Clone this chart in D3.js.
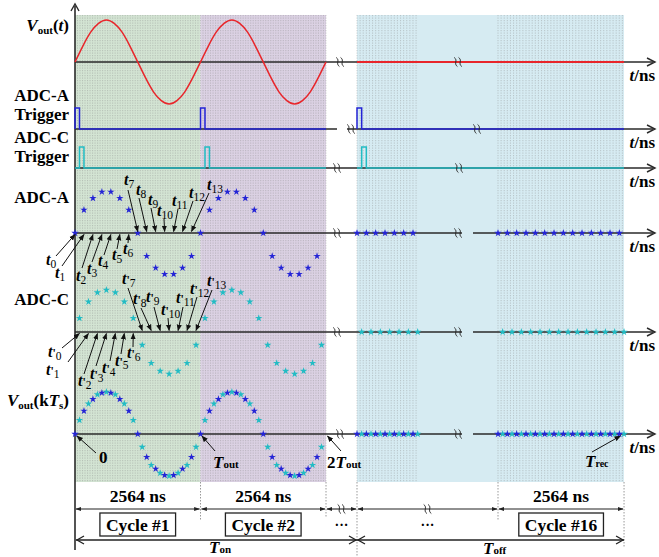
<!DOCTYPE html>
<html><head><meta charset="utf-8">
<script src="https://cdn.jsdelivr.net/npm/d3@7"></script>
<style>body{margin:0;background:#fff}svg{display:block}</style></head>
<body><svg id="c" width="659" height="557"></svg>
<script>
// ================= DATA =================
const cycleNs = 2564;
const samplesPerCycle = 14;
const onCycles = [0, 1];
// Vout(t) read every 1/16 of a cycle (normalised amplitude)
const voutCurve = [0, 0.38, 0.71, 0.92, 1, 0.92, 0.71, 0.38, 0, -0.38, -0.71, -0.92, -1, -0.92, -0.71, -0.38];
// ADC-A samples (k*Ts) and ADC-C samples ((k+1/2)*Ts), one cycle
const adcAValues = [0, 0.55, 0.83, 0.98, 0.98, 0.83, 0.55, 0, -0.55, -0.83, -0.98, -0.98, -0.83, -0.55];
const adcCValues = [0.33, 0.72, 0.94, 1, 0.94, 0.72, 0.33, -0.31, -0.74, -0.93, -1, -0.93, -0.74, -0.31];
// output-off period samples (flat)
const offGroup1A = [0, 0, 0, 0, 0, 0, 0];
const offGroup1C = [0, 0, 0, 0, 0, 0, 0];
const offGroup2A = [0, 0, 0, 0, 0, 0, 0, 0, 0, 0, 0, 0, 0, 0];
const offGroup2C = [0, 0, 0, 0, 0, 0, 0, 0, 0, 0, 0, 0, 0, 0];
const triggerLevel = 0.5;
const durationLabels = ["2564 ns", "2564 ns", "", "", "2564 ns"];
const cycleLabels = ["Cycle #1", "Cycle #2", "···", "···", "Cycle #16"];
const topIdxA = [7, 8, 9, 10, 11, 12, 13];
const botIdxA = [0, 1, 2, 3, 4, 5, 6];

// ================= LAYOUT =================
const svg = d3.select("#c");
const FONT = "'Liberation Serif','Times New Roman',serif";
const Ts = cycleNs / samplesPerCycle;
const xOn = d3.scaleLinear().domain([0, 2 * cycleNs]).range([75, 326]);
const xOff1 = d3.scaleLinear().domain([0, cycleNs]).range([357, 487.7]);
const xOff2 = d3.scaleLinear().domain([0, cycleNs]).range([498, 628.7]);
const AMP = 42;
const rows = {
  vout:  {y: 62,  squig: [340, 458], gap: null},
  trigA: {y: 129, squig: [351, 477], gap: [337, 347]},
  trigC: {y: 168, squig: [337, 459], gap: null},
  adcA:  {y: 233, squig: [337, 458], gap: [462, 473]},
  adcC:  {y: 332, squig: [337, 458], gap: [462, 473]},
  voutK: {y: 434, squig: [340, 458], gap: [462, 473]}
};
const yOf = r => d3.scaleLinear().domain([-1, 1]).range([rows[r].y + AMP, rows[r].y - AMP]);
const RED = "#e8262b", BLUE = "#2424d6", CYAN = "#22bcc4", AX = "#2a2a2a";
const offEnd = xOff2((samplesPerCycle - 0.5) * Ts);
const TOP = 15, BOT = 482;

const defs = svg.append("defs");
defs.append("marker").attr("id", "ah").attr("viewBox", "0 0 10 10").attr("refX", 9).attr("refY", 5)
  .attr("markerWidth", 6.5).attr("markerHeight", 6.5).attr("orient", "auto-start-reverse")
  .attr("markerUnits", "userSpaceOnUse")
  .append("path").attr("d", "M0,1 L10,5 L0,9 Z").attr("fill", "#111");
defs.append("marker").attr("id", "dh").attr("viewBox", "0 0 10 10").attr("refX", 9).attr("refY", 5)
  .attr("markerWidth", 6).attr("markerHeight", 6).attr("orient", "auto-start-reverse")
  .attr("markerUnits", "userSpaceOnUse")
  .append("path").attr("d", "M0,1.5 L10,5 L0,8.5 Z").attr("fill", "#222");

// backgrounds
const bg = svg.append("g");
bg.append("rect").attr("x", xOn(0)).attr("y", TOP).attr("width", xOn(cycleNs) - xOn(0)).attr("height", BOT - TOP).attr("fill", "#d3e4d3");
bg.append("rect").attr("x", xOn(cycleNs)).attr("y", TOP).attr("width", xOn(2 * cycleNs) - xOn(cycleNs)).attr("height", BOT - TOP).attr("fill", "#dbd1e3");
bg.append("rect").attr("x", xOff1(0)).attr("y", TOP).attr("width", offEnd - xOff1(0)).attr("height", BOT - TOP).attr("fill", "#d6ebf2");
// dotted texture
const tex = svg.append("g").attr("stroke", "#8c8c8c").attr("stroke-width", 0.8).attr("stroke-dasharray", "1.2,1.3").attr("opacity", 0.5);
const addTex = (a, b, step) => d3.range(a, b + 0.01, step).forEach(x =>
  tex.append("line").attr("x1", x).attr("x2", x).attr("y1", TOP).attr("y2", BOT));
addTex(xOn(0) + 2.5, xOn(2 * cycleNs), 2.51);
addTex(xOff1(0), xOff1(0) + 61, 3.11);
addTex(xOff2(0), offEnd, 3.11);

// ================= AXES =================
const ax = svg.append("g").attr("stroke", AX).attr("fill", "none");
ax.append("line").attr("x1", 75).attr("x2", 75).attr("y1", 6).attr("y2", 550).attr("stroke-width", 1.6);
ax.append("path").attr("d", "M71,11 L75,4 L79,11").attr("stroke-width", 1.4);
function squiggle(g, x, y) {
  [-2.2, 2.2].forEach(dx => g.append("path")
    .attr("d", `M${x + dx - 1.6},${y - 4.5} C${x + dx + 2.6},${y - 1.5} ${x + dx - 2.6},${y + 1.5} ${x + dx + 1.6},${y + 4.5}`)
    .attr("stroke", AX).attr("stroke-width", 1).attr("fill", "none"));
}
Object.values(rows).forEach(r => {
  const segs = r.gap ? [[75, r.gap[0]], [r.gap[1], 653]] : [[75, 653]];
  segs.forEach(s => ax.append("line").attr("x1", s[0]).attr("x2", s[1]).attr("y1", r.y).attr("y2", r.y).attr("stroke-width", 1.6));
  ax.append("path").attr("d", `M647,${r.y - 4} L655,${r.y} L647,${r.y + 4}`).attr("stroke-width", 1.4);
});

// ================= SIGNALS =================
const sig = svg.append("g").attr("fill", "none");
const yV = yOf("vout");
const voutPts = [];
onCycles.forEach(c => voutCurve.forEach((v, j) => voutPts.push([c * cycleNs + j * cycleNs / voutCurve.length, v])));
voutPts.push([onCycles.length * cycleNs, voutCurve[0]]);
sig.append("path").attr("d", d3.line().x(d => xOn(d[0])).y(d => yV(d[1])).curve(d3.curveNatural)(voutPts))
  .attr("stroke", RED).attr("stroke-width", 1.5);
sig.append("line").attr("x1", xOff1(0)).attr("x2", offEnd).attr("y1", yV(0)).attr("y2", yV(0)).attr("stroke", RED).attr("stroke-width", 1.8);

function trigger(row, color, start) {
  const y = yOf(row);
  const pts = [[0, 0]];
  onCycles.forEach(c => {
    const t0 = c * cycleNs + start;
    pts.push([t0, 0], [t0, triggerLevel], [t0 + Ts / 2, triggerLevel], [t0 + Ts / 2, 0]);
  });
  pts.push([onCycles.length * cycleNs, 0]);
  sig.append("path").attr("d", d3.line().x(d => xOn(d[0])).y(d => y(d[1]))(pts)).attr("stroke", color).attr("stroke-width", 1.5);
  const off = [[0, 0], [start, 0], [start, triggerLevel], [start + Ts / 2, triggerLevel], [start + Ts / 2, 0], [(samplesPerCycle - 0.5) * Ts, 0]];
  const line2 = d3.line().x(d => d[0] <= cycleNs * 0.5 ? xOff1(d[0]) : offEnd).y(d => y(d[1]));
  sig.append("path").attr("d", line2(off)).attr("stroke", color).attr("stroke-width", 1.5);
}
trigger("trigA", BLUE, 0);
trigger("trigC", CYAN, Ts / 2);

Object.values(rows).forEach(r => r.squig.forEach(x => squiggle(svg, x, r.y)));

// ================= SAMPLES =================
const star = d3.symbol(d3.symbolStar, 17);
const stars = svg.append("g");
function drawStars(scale, values, offset, row, color, cycles) {
  const y = yOf(row);
  cycles.forEach(c => values.forEach((v, k) => {
    stars.append("path").attr("d", star)
      .attr("transform", `translate(${scale(c * cycleNs + (k + offset) * Ts)},${y(v)})`)
      .attr("fill", color);
  }));
}
drawStars(xOn, adcAValues, 0, "adcA", BLUE, onCycles);
drawStars(xOn, adcCValues, 0.5, "adcC", CYAN, onCycles);
drawStars(xOn, adcCValues, 0.5, "voutK", CYAN, onCycles);
drawStars(xOn, adcAValues, 0, "voutK", BLUE, onCycles);
drawStars(xOff1, offGroup1A, 0, "adcA", BLUE, [0]);
drawStars(xOff2, offGroup2A, 0, "adcA", BLUE, [0]);
drawStars(xOff1, offGroup1C, 0.5, "adcC", CYAN, [0]);
drawStars(xOff2, offGroup2C, 0.5, "adcC", CYAN, [0]);
drawStars(xOff1, offGroup1C, 0.5, "voutK", CYAN, [0]);
drawStars(xOff1, offGroup1A, 0, "voutK", BLUE, [0]);
drawStars(xOff2, offGroup2C, 0.5, "voutK", CYAN, [0]);
drawStars(xOff2, offGroup2A, 0, "voutK", BLUE, [0]);

// ================= TEXT =================
const txt = svg.append("g").attr("font-family", FONT).attr("font-weight", "bold").attr("fill", "#000");
function rich(x, y, parts, anchor, size) {
  const t = txt.append("text").attr("x", x).attr("y", y).attr("text-anchor", anchor || "start").attr("font-size", size || 17);
  let shift = 0;
  parts.forEach(p => {
    const s = t.append("tspan").text(p.t);
    if (p.i) s.attr("font-style", "italic");
    if (p.fs) s.attr("font-size", p.fs);
    if (p.fw) s.attr("font-weight", p.fw);
    const want = p.sub || 0;
    if (want !== shift) { s.attr("dy", want - shift); shift = want; }
  });
  return t;
}
rich(69, 31, [{t: "V", i: 1}, {t: "out", fs: 11, sub: 3}, {t: "("}, {t: "t", i: 1}, {t: ")"}], "end");
rich(69, 101, [{t: "ADC-A"}], "end");
rich(69, 120, [{t: "Trigger"}], "end");
rich(69, 143, [{t: "ADC-C"}], "end");
rich(69, 162, [{t: "Trigger"}], "end");
rich(69, 203, [{t: "ADC-A"}], "end");
rich(69, 305, [{t: "ADC-C"}], "end");
rich(69, 406, [{t: "V", i: 1}, {t: "out", fs: 11, sub: 3}, {t: "(k"}, {t: "T", i: 1}, {t: "s", fs: 11, sub: 3}, {t: ")"}], "end");
Object.values(rows).forEach(r => rich(655, r.y + 19, [{t: "t", i: 1}, {t: "/ns"}], "end"));

const ann = svg.append("g").attr("stroke", "#111").attr("stroke-width", 1).attr("fill", "none");
function arrow(x1, y1, x2, y2, m) {
  ann.append("line").attr("x1", x1).attr("y1", y1).attr("x2", x2).attr("y2", y2).attr("marker-end", `url(#${m || "ah"})`);
}
function tLab(x, y, idx, prime) {
  const parts = [{t: "t", i: 1}];
  if (prime) parts.push({t: "'", fw: "bold", fs: 12});
  parts.push({t: String(idx), fs: 11.5, fw: "normal", sub: 3});
  rich(x, y, parts, "start", 16);
}
const yA = rows.adcA.y, yC = rows.adcC.y;
const upA = [[124, 185, 128, 190], [136, 195, 139, 198], [148, 205, 151, 208], [157, 216, 164, 219], [172, 206, 178, 209], [189, 198, 193, 201], [207, 190, 209, 193]];
topIdxA.forEach((k, i) => { const p = upA[i]; tLab(p[0], p[1], k); arrow(p[2], p[3], xOn(k * Ts), yA - 1.5); });
const loA = [[46, 265, 56, 256], [55, 278, 62, 266], [76, 281, 82, 268], [87, 274, 92, 262], [98, 266, 104, 255], [112, 260, 117, 249], [123, 254, 128, 243]];
botIdxA.forEach((k, i) => { const p = loA[i]; tLab(p[0], p[1], k); arrow(p[2], p[3], xOn(k * Ts), yA + 1.5); });
const upC = [[122, 284, 128, 288], [133, 304, 141, 308], [146, 302, 154, 307], [161, 315, 168, 318], [176, 303, 183, 307], [190, 294, 197, 297], [207, 286, 212, 290]];
topIdxA.forEach((k, i) => { const p = upC[i]; tLab(p[0], p[1], k, 1); arrow(p[2], p[3], xOn((k + 0.5) * Ts), yC - 1.5); });
const loC = [[48, 357, 62, 348], [46, 375, 68, 362], [78, 386, 84, 374], [90, 379, 96, 366], [102, 373, 110, 361], [115, 366, 121, 354], [127, 358, 133, 347]];
botIdxA.forEach((k, i) => { const p = loC[i]; tLab(p[0], p[1], k, 1); arrow(p[2], p[3], xOn((k + 0.5) * Ts), yC + 1.5); });

const yK = rows.voutK.y;
arrow(96, 453, xOn(0) + 2, yK + 2);
rich(99, 463, [{t: "0"}]);
arrow(215, 451, xOn(cycleNs) + 1.5, yK + 2);
rich(213, 468, [{t: "T", i: 1}, {t: "out", fs: 11}]);
arrow(341, 451, xOn(2 * cycleNs) + 1.5, yK + 2);
rich(327, 468, [{t: "2"}, {t: "T", i: 1}, {t: "out", fs: 11}]);
arrow(592, 452, xOff2(13 * Ts) + 1, yK + 2);
rich(585, 467, [{t: "T", i: 1}, {t: "rec", fs: 10}]);

// ================= BOTTOM DIMENSIONS =================
const bounds = [xOn(0), xOn(cycleNs), xOn(2 * cycleNs), xOff1(0), xOff2(0), offEnd];
const dim = svg.append("g");
const vsep = [[bounds[1], 520], [bounds[2], 518], [bounds[3], 557], [bounds[4], 520], [bounds[5], 548]];
vsep.forEach(v => dim.append("line").attr("x1", v[0]).attr("x2", v[0]).attr("y1", BOT).attr("y2", v[1])
  .attr("stroke", "#999").attr("stroke-dasharray", "1.5,1.5").attr("stroke-width", 1));
const DY = 509;
for (let i = 0; i < 5; i++) {
  const a = bounds[i], b = bounds[i + 1];
  dim.append("line").attr("x1", a + 1).attr("x2", b - 1).attr("y1", DY).attr("y2", DY)
    .attr("stroke", "#222").attr("stroke-width", 1.1).attr("marker-start", "url(#dh)").attr("marker-end", "url(#dh)");
  if (durationLabels[i]) rich((a + b) / 2, 502, [{t: durationLabels[i]}], "middle", 17.5);
  const cl = cycleLabels[i];
  if (cl.startsWith("Cycle")) {
    const t = rich((a + b) / 2, 531, [{t: cl}], "middle", 17.5);
    const bb = t.node().getBBox();
    dim.append("rect").attr("x", bb.x - 6).attr("y", 513).attr("width", bb.width + 12).attr("height", 23)
      .attr("fill", "none").attr("stroke", "#222").attr("stroke-width", 1.3);
  } else {
    rich((a + b) / 2, 530, [{t: "···"}], "middle", 14);
    squiggle(dim, (a + b) / 2, DY);
  }
}
const TY = 540;
function bigArrow(a, b) {
  dim.append("line").attr("x1", a).attr("x2", b).attr("y1", TY).attr("y2", TY).attr("stroke", "#222").attr("stroke-width", 1.3);
  dim.append("path").attr("d", `M${a + 8},${TY - 4} L${a + 1},${TY} L${a + 8},${TY + 4}`).attr("stroke", "#222").attr("fill", "none").attr("stroke-width", 1.3);
  dim.append("path").attr("d", `M${b - 8},${TY - 4} L${b - 1},${TY} L${b - 8},${TY + 4}`).attr("stroke", "#222").attr("fill", "none").attr("stroke-width", 1.3);
}
bigArrow(bounds[0] + 1, bounds[3]);
bigArrow(bounds[3], bounds[5]);
rich(209, 553, [{t: "T", i: 1}, {t: "on", fs: 11}]);
rich(483, 554, [{t: "T", i: 1}, {t: "off", fs: 11}]);
</script></body></html>
